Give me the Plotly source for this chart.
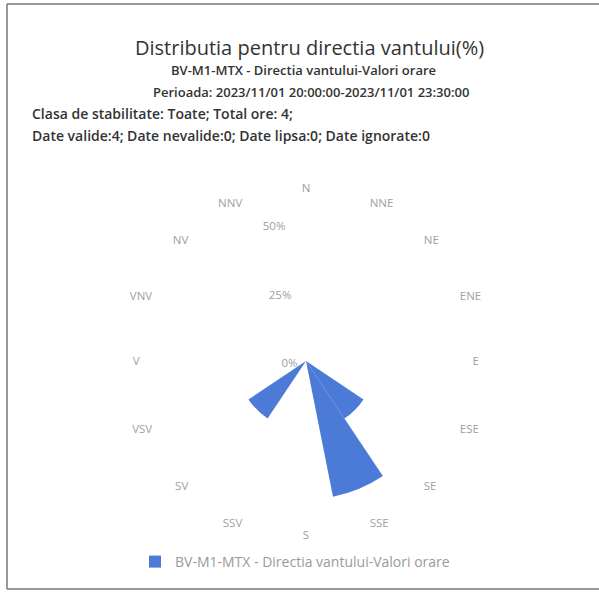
import plotly.graph_objects as go

directions = ["N", "NNE", "NE", "ENE", "E", "ESE", "SE", "SSE",
              "S", "SSV", "SV", "VSV", "V", "VNV", "NV", "NNV"]
frequency = [0, 0, 0, 0, 0, 0, 25, 50, 0, 0, 25, 0, 0, 0, 0, 0]
radial_ticks = [0, 25, 50]
radial_labels = ["0%", "25%", "50%"]
series_name = "BV-M1-MTX - Directia vantului-Valori orare"

W, H = 599, 592
cx, cy, R = 306, 361, 166
radial_angle = 95

fig = go.Figure()
fig.add_trace(go.Barpolar(
    r=frequency, theta=directions, name=series_name,
    marker=dict(color="#4b7bd6", line=dict(width=0)),
    showlegend=True,
))

def px(x):
    return x / W

def py(y):
    return 1 - y / H

def text_ann(text, x, y, size, anchor="center", weight=400):
    return dict(text=text, x=px(x), y=py(y), xref="paper", yref="paper",
                showarrow=False, xanchor=anchor, yanchor="middle",
                font=dict(size=size, color="#333", weight=weight))

fig.update_layout(
    width=W, height=H,
    margin=dict(l=0, r=0, t=0, b=0),
    paper_bgcolor="white", plot_bgcolor="white",
    font=dict(family="Open Sans", color="#333"),
    polar=dict(
        domain=dict(x=[px(cx - R), px(cx + R)], y=[py(cy + R), py(cy - R)]),
        bgcolor="white",
        bargap=0,
        angularaxis=dict(direction="clockwise", rotation=90, showgrid=False,
                         showline=False, ticks="", tickfont=dict(size=11.5, color="#a0a0a0")),
        radialaxis=dict(range=[0, 60], tickvals=radial_ticks, ticktext=radial_labels,
                        angle=radial_angle, tickangle=radial_angle, showgrid=False,
                        showline=False, ticks="", side="counterclockwise",
                        tickfont=dict(size=11.5, color="#a0a0a0")),
    ),
    showlegend=True,
    legend=dict(orientation="h", x=px(135), y=py(546), xanchor="left", yanchor="top",
                font=dict(size=14, color="#9a9a9a"), itemsizing="constant"),
    annotations=[
        text_ann("Distributia pentru directia vantului(%)", 309, 47, 20),
        text_ann("BV-M1-MTX - Directia vantului-Valori orare", 303, 70, 13, weight=600),
        text_ann("Perioada: 2023/11/01 20:00:00-2023/11/01 23:30:00", 311, 92, 13, weight=600),
        text_ann("Clasa de stabilitate: Toate; Total ore: 4;", 30, 113, 14, anchor="left", weight=600),
        text_ann("Date valide:4; Date nevalide:0; Date lipsa:0; Date ignorate:0", 30, 135, 14,
                 anchor="left", weight=600),
    ],
    shapes=[
        dict(type="line", xref="paper", yref="paper", x0=px(7), x1=1, y0=py(4), y1=py(4),
             line=dict(color="#777", width=1.5)),
        dict(type="line", xref="paper", yref="paper", x0=px(7), x1=px(7), y0=py(4), y1=py(589),
             line=dict(color="#777", width=1.5)),
        dict(type="line", xref="paper", yref="paper", x0=px(7), x1=1, y0=py(589), y1=py(589),
             line=dict(color="#777", width=1.5)),
    ],
)

fig.write_html("out.html", config={"displayModeBar": False},
               post_script="document.body.style.margin='0';document.body.style.overflow='hidden';")
